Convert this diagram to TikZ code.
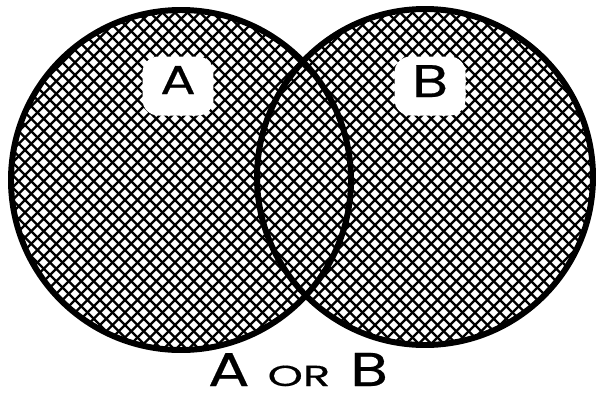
\documentclass[tikz,border=0pt]{standalone}
\usepackage{fontspec}
\setmainfont{Poppins}[FakeStretch=1.3, FakeBold=0.45]
\newfontfamily\wideorfont{Poppins}[FakeStretch=1.55, FakeBold=0.45]
\usetikzlibrary{positioning}
\tikzset{
  ring/.style={
    line width=3.4pt,
    draw=black
  },
  hatch/.style={
    line width=1.35pt,
    line cap=round
  },
  setlabel/.style={
    fill=white,
    rounded corners=9pt,
    inner sep=0pt,
    minimum width=1.42cm,
    minimum height=1.18cm
  },
}
\begin{document}
\begin{tikzpicture}[x=0.02cm,y=-0.02cm]
    \useasboundingbox (0,0) rectangle (598,400);
    \def\ra{170}
    \def\rb{168}
    \coordinate (ca) at (181,180);
    \coordinate (cb) at (425,177);
    % cross hatching of A or B
    \begin{scope}
      \clip (ca) circle (\ra) (cb) circle (\rb);
      \foreach \c in {-400,-387.5,...,600}
        \draw[hatch] (\c,0) -- ++(400,400);
      \foreach \c in {0,12.5,...,1000}
        \draw[hatch] (\c,0) -- ++(-400,400);
    \end{scope}
    \draw[ring] (ca) circle (\ra);
    \draw[ring] (cb) circle (\rb);
    \node[setlabel, text height=0.56cm, text depth=0.24cm,
      font=\fontsize{23}{23}\selectfont] (la) at (178,86) {A};
    \node[setlabel, text height=0.64cm, text depth=0.2cm,
      font=\fontsize{26}{26}\selectfont] (lb) at (430,86) {B};
    \node[anchor=base, inner sep=0pt, text depth=0pt, font=\fontsize{27}{27}\selectfont]
      (title) at (298,386) {A\hspace{0.38em}{\wideorfont\fontsize{16.5}{16.5}\selectfont OR}\hspace{0.42em}B};
\end{tikzpicture}
\end{document}
